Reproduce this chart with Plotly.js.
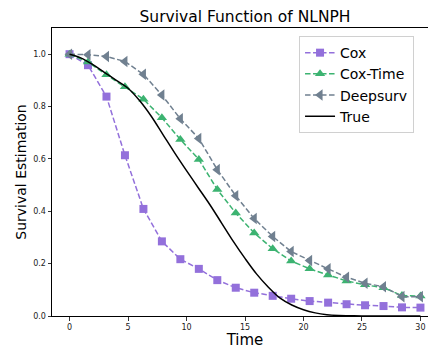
<!DOCTYPE html>
<html>
<head>
<meta charset="utf-8">
<script src="https://cdn.plot.ly/plotly-3.0.1.min.js"></script>
<style>
html,body{margin:0;padding:0;overflow:hidden;background:#fff;width:428px;height:349px;}
#chart{width:440px;height:349px;}
</style>
</head>
<body>
<div id="chart"></div>
<script>
// Model time grid (20 evaluation points from 0 to 30)
const timeGrid = [0, 1.579, 3.158, 4.737, 6.316, 7.895, 9.474, 11.053, 12.632, 14.211,
                  15.789, 17.368, 18.947, 20.526, 22.105, 23.684, 25.263, 26.842, 28.421, 30];
const coxValues = [1.0, 0.958, 0.838, 0.614, 0.409, 0.285, 0.217, 0.180, 0.137, 0.108,
                   0.089, 0.077, 0.066, 0.057, 0.051, 0.045, 0.041, 0.038, 0.033, 0.032];
const coxTimeValues = [1.0, 0.970, 0.921, 0.876, 0.828, 0.757, 0.674, 0.598, 0.483, 0.393,
                       0.317, 0.257, 0.210, 0.180, 0.157, 0.134, 0.119, 0.108, 0.078, 0.076];
const deepsurvValues = [1.0, 0.998, 0.991, 0.972, 0.923, 0.844, 0.753, 0.678, 0.559, 0.459,
                        0.372, 0.304, 0.246, 0.212, 0.180, 0.148, 0.125, 0.112, 0.074, 0.074];
// True survival curve
const trueTime = [0, 1, 2, 3, 4, 5, 6, 7, 8, 9, 10, 11, 12, 13, 14, 15, 16, 17, 18, 19, 20,
                  21, 22, 23, 24, 25, 26, 27, 28, 29, 30];
const trueValues = [1.0, 0.985, 0.96, 0.93, 0.90, 0.87, 0.822, 0.762, 0.692, 0.622, 0.555,
                    0.49, 0.425, 0.355, 0.285, 0.22, 0.16, 0.11, 0.068, 0.042, 0.024,
                    0.012, 0.005, 0.002, 0.001, 0, 0, 0, 0, 0, 0];
const xTicks = [0, 5, 10, 15, 20, 25, 30];
const yTicks = [0, 0.2, 0.4, 0.6, 0.8, 1.0];

const dashPattern = '5.5px,2.5px';
const traces = [
  {x: timeGrid, y: coxValues, name: 'Cox', mode: 'lines+markers',
   line: {color: '#9370DB', dash: dashPattern, width: 1.5},
   marker: {symbol: 'square', size: 8, color: '#9370DB'}},
  {x: timeGrid, y: coxTimeValues, name: 'Cox-Time', mode: 'lines+markers',
   line: {color: '#3CB371', dash: dashPattern, width: 1.5},
   marker: {symbol: 'triangle-up', size: 9, color: '#3CB371'}},
  {x: timeGrid, y: deepsurvValues, name: 'Deepsurv', mode: 'lines+markers',
   line: {color: '#708090', dash: dashPattern, width: 1.5},
   marker: {symbol: 'triangle-left', size: 10, color: '#708090'}},
  {x: trueTime, y: trueValues, name: 'True', mode: 'lines',
   line: {color: '#000000', width: 1.5, shape: 'spline'}}
];

const layout = {
  width: 440, height: 349,
  margin: {l: 52, r: 2, t: 28, b: 33},
  paper_bgcolor: '#fff', plot_bgcolor: '#fff',
  font: {family: 'DejaVu Sans', color: '#000'},
  title: {text: 'Survival Function of NLNPH', font: {size: 15.5, family: 'DejaVu Sans', color: '#000'},
          x: 0.5, xref: 'paper', xanchor: 'center', y: 1 - 17/349, yref: 'container', yanchor: 'middle'},
  xaxis: {range: [-1.5, 31.5], tickvals: xTicks, ticktext: xTicks.map(String),
          showgrid: false, zeroline: false, showline: true, mirror: true, linecolor: '#000', linewidth: 1,
          ticks: 'outside', ticklen: 3.5, tickwidth: 0.8, tickcolor: '#000',
          tickfont: {size: 8, color: '#222'},
          title: {text: 'Time', font: {size: 15}, standoff: 6}},
  yaxis: {range: [0, 1.1], tickvals: yTicks, ticktext: yTicks.map(v => v.toFixed(1)),
          showgrid: false, zeroline: false, showline: true, mirror: true, linecolor: '#000', linewidth: 1,
          ticks: 'outside', ticklen: 3.5, tickwidth: 0.8, tickcolor: '#000',
          tickfont: {size: 8, color: '#222'},
          title: {text: 'Survival Estimation', font: {size: 14}, standoff: 3}},
  legend: {x: 0.64, y: 0.972, xanchor: 'left', yanchor: 'top',
           bgcolor: 'rgba(255,255,255,0.8)', bordercolor: '#d0d0d0', borderwidth: 1,
           font: {size: 14, color: '#000'}, tracegroupgap: 0},
  showlegend: true
};

Plotly.newPlot('chart', traces, layout, {displayModeBar: false, staticPlot: true});
</script>
</body>
</html>
